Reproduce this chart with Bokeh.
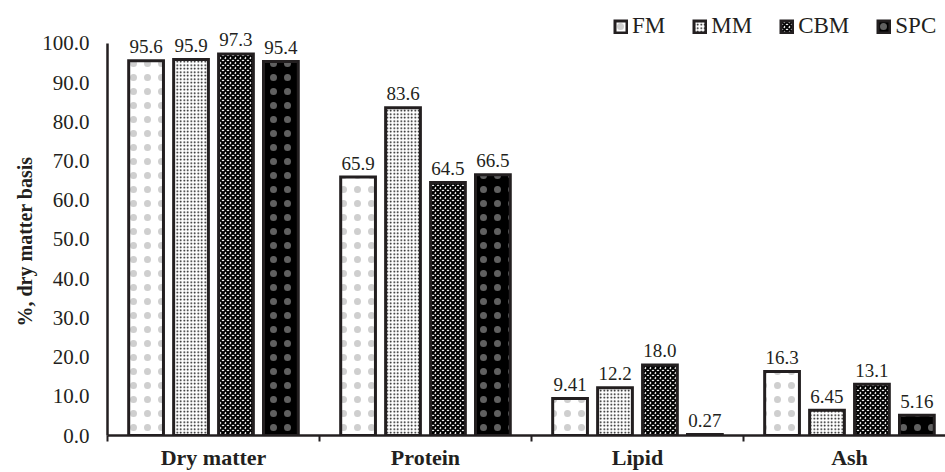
from bokeh.plotting import figure
from bokeh.models import (ColumnDataSource, FixedTicker, Range1d, Title, Legend,
                          LegendItem, CustomJSTickFormatter)
from bokeh.embed import file_html
from bokeh.resources import INLINE
from bokeh.core.properties import value

categories = ["Dry matter", "Protein", "Lipid", "Ash"]
series = ["FM", "MM", "CBM", "SPC"]
fm = [95.6, 65.9, 9.41, 16.3]
mm = [95.9, 83.6, 12.2, 6.45]
cbm = [97.3, 64.5, 18.0, 13.1]
spc = [95.4, 66.5, 0.27, 5.16]
y_ticks = [0, 10, 20, 30, 40, 50, 60, 70, 80, 90, 100]

values = [fm, mm, cbm, spc]

FONT = "Liberation Serif"
INK = "#231f20"

styles = [
    dict(fill_color="white", hatch_pattern="dot", hatch_color="#cfcfcf", hatch_scale=14, hatch_weight=0.5),
    dict(fill_color="white", hatch_pattern="dot", hatch_color="black", hatch_scale=3.5, hatch_weight=1.4),
    dict(fill_color="white", hatch_pattern="diagonal_cross", hatch_color="black", hatch_scale=5, hatch_weight=2),
    dict(fill_color="black", hatch_pattern="dot", hatch_color="#606060", hatch_scale=14, hatch_weight=0.5),
]

p = figure(width=945, height=472, output_backend="svg", toolbar_location=None,
           x_range=Range1d(0, 3.953), y_range=Range1d(0, 110.94),
           min_border_left=107, min_border_right=0, min_border_top=0, min_border_bottom=36)
p.outline_line_color = None
p.grid.visible = False
p.background_fill_color = "white"
p.border_fill_color = "white"

offsets = [-0.318, -0.106, 0.106, 0.318]
items = []
for k, (name, vals, st) in enumerate(zip(series, values, styles)):
    xs = [i + 0.5 + offsets[k] for i in range(len(categories))]
    src = ColumnDataSource(dict(x=xs, top=vals, lab=[str(v) for v in vals]))
    r = p.vbar(x="x", top="top", width=0.164, bottom=0, source=src,
               line_color=INK, line_width=3, line_join="miter", **st)
    items.append(LegendItem(label=name, renderers=[r]))
    p.text(x="x", y="top", text="lab", source=src, text_align="center",
           text_baseline="alphabetic", y_offset=-14,
           text_font=value(FONT), text_font_size="19px", text_color=INK)

legend = Legend(items=items, orientation="horizontal", location=(506, 396),
                label_text_font=FONT, label_text_font_size="23px", label_text_color=INK,
                glyph_width=15, glyph_height=15, label_standoff=4, spacing=27,
                padding=0, margin=0, border_line_alpha=0, background_fill_alpha=0,
                label_height=24)
p.add_layout(legend)

# x axis
xa = p.xaxis[0]
xa.ticker = FixedTicker(ticks=[i + 0.5 for i in range(len(categories))],
                        minor_ticks=list(range(len(categories))))
xa.formatter = CustomJSTickFormatter(args=dict(cats=categories),
                                     code="return cats[Math.floor(tick)];")
xa.major_tick_out = 0
xa.major_tick_in = 0
xa.minor_tick_out = 6
xa.minor_tick_in = 0
xa.minor_tick_line_color = INK
xa.minor_tick_line_width = 2
xa.axis_line_color = INK
xa.axis_line_width = 2.5
xa.major_label_text_font = FONT
xa.major_label_text_font_style = "bold"
xa.major_label_text_font_size = "22px"
xa.major_label_text_color = INK
xa.major_label_standoff = 3

# y axis
ya = p.yaxis[0]
ya.ticker = FixedTicker(ticks=y_ticks)
ya.formatter = CustomJSTickFormatter(code="return tick.toFixed(1);")
ya.bounds = (0, 100)
ya.major_tick_out = 0
ya.major_tick_in = 0
ya.minor_tick_out = 0
ya.minor_tick_in = 0
ya.axis_line_color = INK
ya.axis_line_width = 2.5
ya.major_label_text_font = FONT
ya.major_label_text_font_size = "21px"
ya.major_label_text_color = INK
ya.major_label_standoff = 18

ytitle = Title(text="%, dry matter basis", align="left", offset=109,
               text_font=FONT, text_font_style="bold", text_font_size="20px",
               text_color=INK, standoff=8)
p.add_layout(ytitle, "left")

open("out.html", "w").write(file_html(p, INLINE))
